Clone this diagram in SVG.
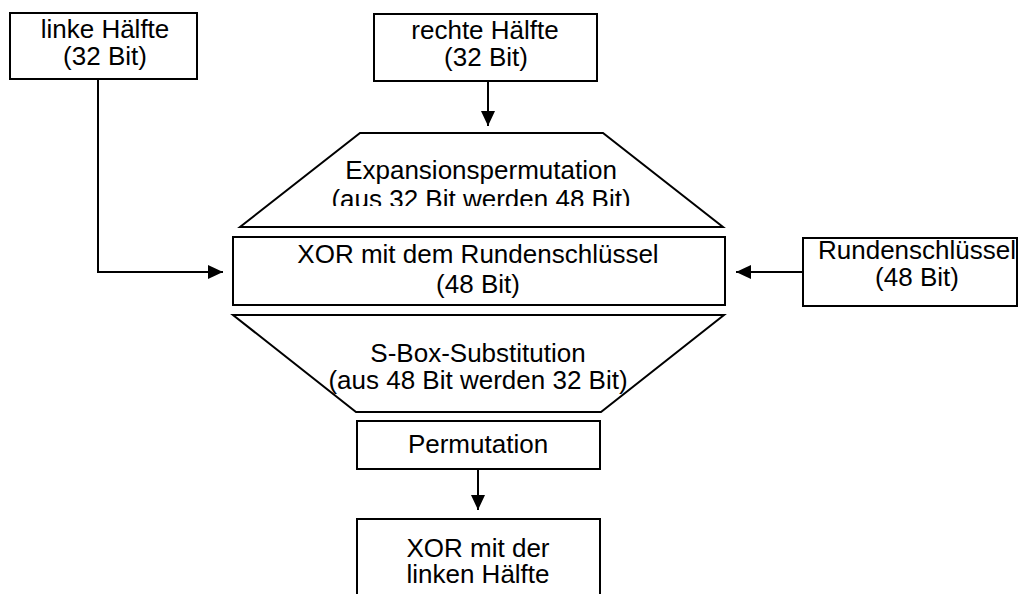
<svg xmlns="http://www.w3.org/2000/svg" width="1019" height="594" viewBox="0 0 1019 594">
  <style>
    .box { fill: #ffffff; stroke: #000000; stroke-width: 2; }
    .conn { fill: none; stroke: #000000; stroke-width: 2; }
    text { font-family: "Liberation Sans", Arial, sans-serif; font-size: 26px; fill: #000000; text-anchor: middle; }
  </style>
  <defs>
    <marker id="arrow" viewBox="0 0 15 14" refX="15" refY="7" markerWidth="15" markerHeight="14" markerUnits="userSpaceOnUse" orient="auto">
      <path d="M0,0 L15,7 L0,14 Z" fill="#000000"/>
    </marker>
    <clipPath id="expClip">
      <rect x="0" y="0" width="1019" height="206"/>
    </clipPath>
  </defs>
  <rect width="1019" height="594" fill="#ffffff"/>

  <g id="connectors">
    <polyline class="conn" points="98,79 98,272 223,272" marker-end="url(#arrow)"/>
    <line class="conn" x1="803" y1="272" x2="736" y2="272" marker-end="url(#arrow)"/>
    <line class="conn" x1="488" y1="81" x2="488" y2="126" marker-end="url(#arrow)"/>
    <line class="conn" x1="478" y1="469" x2="478" y2="510" marker-end="url(#arrow)"/>
  </g>

  <g id="linke-haelfte">
    <rect class="box" x="10" y="13" width="187" height="66"/>
    <text x="105" y="38">linke Hälfte</text>
    <text x="105" y="65">(32 Bit)</text>
  </g>

  <g id="rechte-haelfte">
    <rect class="box" x="374" y="14" width="223" height="67"/>
    <text x="485" y="39">rechte Hälfte</text>
    <text x="486" y="66">(32 Bit)</text>
  </g>

  <g id="expansion">
    <polygon class="box" points="360,133 603,133 723,227 240,227"/>
    <text x="481" y="179">Expansionspermutation</text>
    <g clip-path="url(#expClip)">
      <text x="481" y="208">(aus 32 Bit werden 48 Bit)</text>
    </g>
  </g>

  <g id="xor-rundenschluessel">
    <rect class="box" x="233" y="237" width="492" height="68"/>
    <text x="478" y="263">XOR mit dem Rundenschlüssel</text>
    <text x="478" y="293">(48 Bit)</text>
  </g>

  <g id="rundenschluessel">
    <rect class="box" x="803" y="238" width="214" height="68"/>
    <text x="917" y="259">Rundenschlüssel</text>
    <text x="917" y="286">(48 Bit)</text>
  </g>

  <g id="sbox">
    <polygon class="box" points="233,315 724,315 601,412 356,412"/>
    <text x="478" y="362">S-Box-Substitution</text>
    <text x="478" y="389">(aus 48 Bit werden 32 Bit)</text>
  </g>

  <g id="permutation">
    <rect class="box" x="357" y="421" width="243" height="48"/>
    <text x="478" y="453">Permutation</text>
  </g>

  <g id="xor-linke-haelfte">
    <rect class="box" x="357" y="519" width="243" height="110"/>
    <text x="478" y="557">XOR mit der</text>
    <text x="478" y="583">linken Hälfte</text>
  </g>
</svg>
